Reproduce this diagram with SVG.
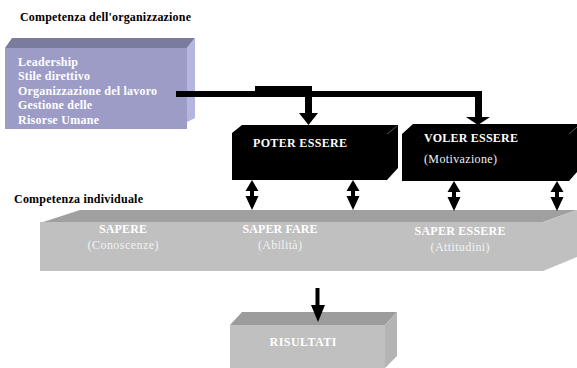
<svg xmlns="http://www.w3.org/2000/svg" width="577" height="368" viewBox="0 0 577 368">
  <defs>
    <style>
      .lbl { font-family: "Liberation Serif", "Times New Roman", serif; font-size: 12px; font-weight: bold; fill: #000; }
      .wt { font-family: "Liberation Serif", "Times New Roman", serif; font-size: 12px; font-weight: bold; fill: #ffffff; }
      .wn { font-family: "Liberation Serif", "Times New Roman", serif; font-size: 12px; fill: #f2f2f2; }
      .mid { text-anchor: middle; }
      .blk { fill: #000; }
      .edge { stroke: #555; stroke-width: 1; fill: none; }
    </style>
    <!-- two-headed vertical arrow, tip at origin, 30px tall -->
    <path id="dbl" d="M0,0 L6.5,11 L2,11 L2,16 L6.5,16 L0,30 L-6.5,16 L-2,16 L-2,11 L-6.5,11 Z"/>
  </defs>
  <rect width="577" height="368" fill="#ffffff"/>

  <text class="lbl" x="20" y="21" textLength="171" lengthAdjust="spacing">Competenza dell'organizzazione</text>
  <text class="lbl" x="14" y="203" textLength="129" lengthAdjust="spacing">Competenza individuale</text>

  <!-- organisation competence block -->
  <g id="org">
    <polygon points="5,48 12,38 195,38 187,48" fill="#7b7b9e"/>
    <polygon points="187,48 195,38 195,118 187,122" fill="#b5b5e2"/>
    <rect x="5" y="48" width="182" height="81" fill="#9c9cc6"/>
    <text class="wt" x="18" y="66" textLength="60" lengthAdjust="spacing">Leadership</text>
    <text class="wt" x="18" y="80" textLength="72" lengthAdjust="spacing">Stile direttivo</text>
    <text class="wt" x="18" y="95" textLength="139" lengthAdjust="spacing">Organizzazione del lavoro</text>
    <text class="wt" x="18" y="109" textLength="74" lengthAdjust="spacing">Gestione delle</text>
    <text class="wt" x="18" y="124" textLength="81" lengthAdjust="spacing">Risorse Umane</text>
  </g>

  <!-- POTER ESSERE block -->
  <g id="poter">
    <polygon class="blk" points="232,133 242,125 398,125 398,168 387,180 232,180"/>
    <line class="edge" x1="387" y1="134" x2="397" y2="126"/>
    <text class="wt" x="253" y="147" textLength="94" lengthAdjust="spacing">POTER ESSERE</text>
  </g>

  <!-- VOLER ESSERE block -->
  <g id="voler">
    <polygon class="blk" points="402,134 413,124 577,124 577,172 569,181 402,181"/>
    <line class="edge" x1="569" y1="134" x2="577" y2="127"/>
    <text class="wt" x="424" y="142" textLength="94" lengthAdjust="spacing">VOLER ESSERE</text>
    <text class="wn" x="424" y="163" textLength="73" lengthAdjust="spacing" fill="#dddddd">(Motivazione)</text>
  </g>

  <!-- individual competence bar -->
  <g id="individuale">
    <polygon points="40,223 80,210 577,210 543,222" fill="#a0a0a0"/>
    <polygon points="543,222 577,210 577,257 543,271" fill="#c0c0c0"/>
    <rect x="40" y="222" width="503" height="49" fill="#c0c0c0"/>
    <text class="wt mid" x="123" y="233" textLength="48" lengthAdjust="spacing">SAPERE</text>
    <text class="wn mid" x="123" y="249" textLength="71" lengthAdjust="spacing">(Conoscenze)</text>
    <text class="wt mid" x="280" y="233" textLength="75" lengthAdjust="spacing">SAPER FARE</text>
    <text class="wn mid" x="280" y="249" textLength="44" lengthAdjust="spacing">(Abilità)</text>
    <text class="wt mid" x="460" y="235" textLength="91" lengthAdjust="spacing">SAPER ESSERE</text>
    <text class="wn mid" x="460" y="251" textLength="59" lengthAdjust="spacing">(Attitudini)</text>
  </g>

  <!-- results block -->
  <g id="risultati">
    <polygon points="230,325 242,312 397,312 385,325" fill="#9c9c9c"/>
    <polygon points="385,325 397,312 397,356 385,368" fill="#b4b4b4"/>
    <rect x="230" y="325" width="155" height="43" fill="#c0c0c0"/>
    <text class="wt mid" x="303" y="346" textLength="67" lengthAdjust="spacing">RISULTATI</text>
  </g>

  <!-- connectors -->
  <g id="connectors" fill="#000">
    <rect x="176" y="91" width="306" height="6"/>
    <rect x="255" y="86" width="57" height="6"/>
    <rect x="305" y="91" width="7" height="23"/>
    <polygon points="299,113 318,113 308.5,125"/>
    <rect x="475" y="91" width="7" height="28"/>
    <polygon points="466,117 490,117 478,125"/>
    <use href="#dbl" x="252" y="180"/>
    <use href="#dbl" x="353" y="180"/>
    <use href="#dbl" x="454" y="181"/>
    <use href="#dbl" x="557" y="181"/>
    <rect x="315.5" y="288" width="4" height="18"/>
    <polygon points="311,305 325,305 318,322"/>
  </g>
</svg>
